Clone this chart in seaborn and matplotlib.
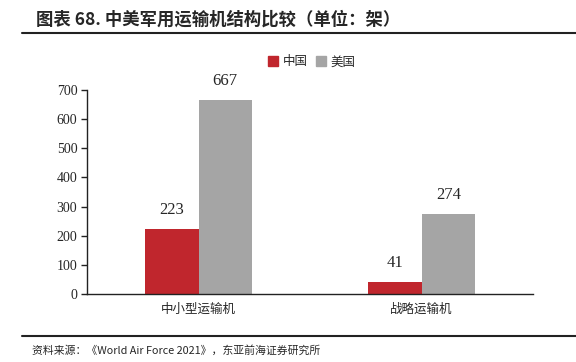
import numpy as np
import pandas as pd
import matplotlib
matplotlib.use('Agg')
import matplotlib.pyplot as plt
import seaborn as sns
from matplotlib.patches import Patch

categories = ['中小型运输机', '战略运输机']
series = ['中国', '美国']
china = [223, 41]
usa = [667, 274]
colors = ['#C0262D', '#A5A5A5']

df = pd.DataFrame({
    'cat': categories * 2,
    'country': [series[0]] * 2 + [series[1]] * 2,
    'val': china + usa,
})

sns.set_style('white')
plt.rcParams['font.family'] = ['Noto Sans CJK SC', 'DejaVu Sans']

fig = plt.figure(figsize=(5.76, 3.62), dpi=100)
ax = fig.add_axes([87 / 576, 1 - 294 / 362, (533 - 87) / 576, (294 - 90) / 362])

sns.barplot(data=df, x='cat', y='val', hue='country', palette=colors,
            width=0.48, saturation=1, linewidth=0, ax=ax, legend=False)

# value labels above bars
for cont in ax.containers:
    for bar in cont:
        h = bar.get_height()
        ax.text(bar.get_x() + bar.get_width() / 2, h + 38, f'{int(h)}',
                ha='center', va='bottom', fontsize=12, family='Liberation Serif')

ax.set_ylim(0, 700)
ax.set_xlim(-0.5, 1.5)
ax.set_yticks(range(0, 701, 100))
ax.set_yticklabels([str(v) for v in range(0, 701, 100)], family='Liberation Serif', fontsize=10)
ax.set_xticks([0, 1])
ax.set_xticklabels(categories, fontsize=9)
ax.tick_params(axis='y', direction='out', length=4, width=1, color='#222222', left=True, pad=3)
ax.tick_params(axis='x', length=0, pad=6)
ax.set_xlabel('')
ax.set_ylabel('')
for s in ['top', 'right']:
    ax.spines[s].set_visible(False)
for s in ['left', 'bottom']:
    ax.spines[s].set_color('#222222')
    ax.spines[s].set_linewidth(1)

handles = [Patch(color=c) for c in colors]
fig.legend(handles, series, loc='center', bbox_to_anchor=(312 / 576, 1 - 62 / 362),
           ncol=2, frameon=False, fontsize=9, handlelength=0.8, handleheight=0.8,
           handletextpad=0.4, columnspacing=0.6)

fig.text(36 / 576, 1 - 20 / 362, '图表 68. 中美军用运输机结构比较（单位：架）',
         fontsize=12.5, fontweight='bold', va='center', ha='left')
fig.add_artist(plt.Line2D([22 / 576, 1], [1 - 33 / 362] * 2, color='#222222', lw=1.5))
fig.add_artist(plt.Line2D([22 / 576, 1], [1 - 336 / 362] * 2, color='#222222', lw=1.5))
fig.text(32 / 576, 1 - 350 / 362, '资料来源：《World Air Force 2021》，东亚前海证券研究所',
         fontsize=7.8, va='center', ha='left')

fig.savefig('out.png', dpi=100)
